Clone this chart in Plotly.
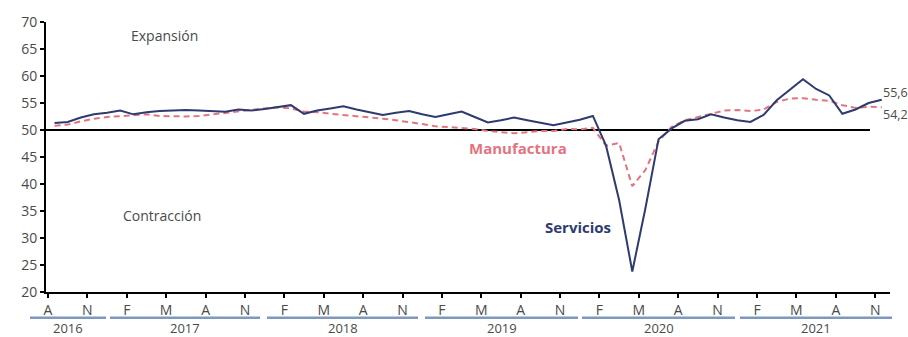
import plotly.graph_objects as go

# ---- data (monthly, Aug 2016 - Nov 2021) ----
servicios = [
    51.3, 51.5, 52.3, 52.9, 53.2,                                       # 2016 Aug-Dec
    53.6, 52.9, 53.3, 53.5, 53.6, 53.7, 53.6, 53.5, 53.4, 53.8, 53.6, 53.9,  # 2017
    54.3, 54.6, 53.0, 53.6, 54.0, 54.4, 53.8, 53.3, 52.8, 53.2, 53.5, 52.9,  # 2018
    52.4, 52.9, 53.4, 52.4, 51.4, 51.8, 52.3, 51.8, 51.3, 50.9, 51.4, 51.9,  # 2019
    52.6, 47.1, 37.0, 23.8, 35.5, 48.3, 50.3, 51.7, 52.0, 52.9, 52.3, 51.8,  # 2020
    51.5, 52.8, 55.5, 57.5, 59.4, 57.6, 56.4, 53.0, 53.8, 55.0, 55.6,        # 2021
]
manufactura = [
    50.8, 51.0, 51.6, 52.1, 52.4,
    52.6, 52.7, 52.9, 52.6, 52.5, 52.5, 52.6, 52.9, 53.2, 53.5, 53.8, 54.0,
    54.2, 54.0, 53.4, 53.3, 53.0, 52.8, 52.5, 52.3, 52.1, 51.8, 51.5, 51.1,
    50.7, 50.5, 50.4, 50.2, 49.8, 49.6, 49.4, 49.6, 49.8, 49.8, 50.2, 50.1,
    50.4, 47.1, 47.6, 39.6, 42.6, 47.9, 50.6, 51.8, 52.4, 53.0, 53.6, 53.7,
    53.5, 53.8, 55.2, 55.8, 55.9, 55.6, 55.4, 54.6, 54.1, 54.3, 54.2,
]
month_labels = ["A", "N"] + ["F", "M", "A", "N"] * 5
years = ["2016", "2017", "2018", "2019", "2020", "2021"]
y_ticks = [20, 25, 30, 35, 40, 45, 50, 55, 60, 65, 70]
umbral = 50

n = len(servicios)
xs = [i + 0.5 for i in range(n)]
tick_pos = [3 * k for k in range(len(month_labels))]

W, H = 908, 337
ML, MR, MT, MB = 46, 18, 20, 45
px_per_month = 13.13
r0 = -2 / px_per_month
r1 = r0 + (W - ML - MR) / px_per_month

def xpaper(px):
    return (px - ML) / (W - ML - MR)

def ypaper(py):
    return (H - MB - py) / (H - MB - MT)

NAVY = "#2E3B70"
PINK = "#E3747F"
GRAY = "#4a4a4a"
FONT = "Open Sans"

fig = go.Figure()
fig.add_trace(go.Scatter(x=xs, y=manufactura, mode="lines", name="Manufactura",
                         line=dict(color=PINK, width=2, dash="6px,4px")))
fig.add_trace(go.Scatter(x=xs, y=servicios, mode="lines", name="Servicios",
                         line=dict(color=NAVY, width=2)))

# 50 threshold line
fig.add_shape(type="line", xref="x", yref="y", x0=r0, x1=r0 + (870 - ML) / px_per_month,
              y0=umbral, y1=umbral, line=dict(color="black", width=2), layer="below")

# year group underlines and labels
year_spans = [(30, 106), (110, 260), (267, 418), (425, 578), (582, 735), (740, 892)]
for yr, (a, b) in zip(years, year_spans):
    fig.add_shape(type="line", xref="paper", yref="paper", x0=xpaper(a), x1=xpaper(b),
                  y0=ypaper(318), y1=ypaper(318), line=dict(color="#7E98BF", width=2.5))
    fig.add_annotation(xref="paper", yref="paper", x=xpaper((a + b) / 2), y=ypaper(328),
                       text=yr, showarrow=False, font=dict(family=FONT, size=13, color=GRAY),
                       xanchor="center", yanchor="middle")

# text annotations
fig.add_annotation(x=8.9, y=67.5, text="Expansión", showarrow=False,
                   font=dict(family=FONT, size=14, color=GRAY))
fig.add_annotation(x=8.7, y=34.1, text="Contracción", showarrow=False,
                   font=dict(family=FONT, size=14, color=GRAY))
fig.add_annotation(x=35.8, y=46.6, text="<b>Manufactura</b>", showarrow=False,
                   font=dict(family=FONT, size=15, color=PINK))
fig.add_annotation(x=40.4, y=32.0, text="<b>Servicios</b>", showarrow=False,
                   font=dict(family=FONT, size=15, color=NAVY))
fig.add_annotation(x=xs[-1], y=57.0, text=f"{servicios[-1]:.1f}".replace(".", ","),
                   showarrow=False, xanchor="left", xshift=-1,
                   font=dict(family=FONT, size=12.5, color=GRAY))
fig.add_annotation(x=xs[-1], y=52.8, text=f"{manufactura[-1]:.1f}".replace(".", ","),
                   showarrow=False, xanchor="left", xshift=-1,
                   font=dict(family=FONT, size=12.5, color=GRAY))

fig.update_layout(
    width=W, height=H, margin=dict(l=ML, r=MR, t=MT, b=MB),
    plot_bgcolor="white", paper_bgcolor="white", showlegend=False,
    font=dict(family=FONT, size=14, color=GRAY),
    xaxis=dict(range=[r0, r1], tickmode="array", tickvals=tick_pos, ticktext=month_labels,
               showgrid=False, zeroline=False, showline=True, linecolor="black", linewidth=2,
               ticks="outside", ticklen=4, tickwidth=2, tickcolor="black",
               tickfont=dict(family=FONT, size=14, color=GRAY)),
    yaxis=dict(range=[20, 70], tickmode="array", tickvals=y_ticks,
               showgrid=False, zeroline=False, showline=True, linecolor="black", linewidth=2,
               ticks="outside", ticklen=4, tickwidth=2, tickcolor="black",
               tickfont=dict(family=FONT, size=14, color=GRAY)),
)

fig.write_html("out.html", config={"displayModeBar": False},
               post_script="document.body.style.margin='0';document.body.style.overflow='hidden';")
